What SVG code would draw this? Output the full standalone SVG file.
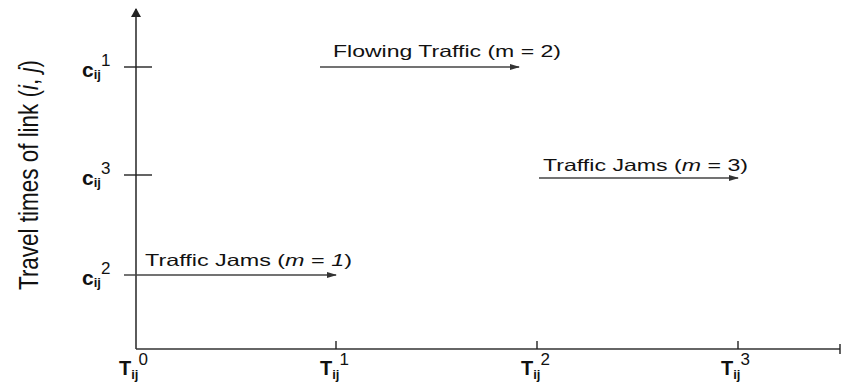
<svg xmlns="http://www.w3.org/2000/svg" width="841" height="385" viewBox="0 0 841 385">
<defs>
<marker id="ah" markerWidth="10" markerHeight="8" refX="9" refY="4" orient="auto" markerUnits="userSpaceOnUse">
<path d="M0,1 L10,4 L0,7 Z" fill="#333"/>
</marker>
<marker id="ahy" markerWidth="10" markerHeight="10" refX="5" refY="1" orient="0" markerUnits="userSpaceOnUse">
<path d="M0,9 L5,0 L10,9 Z" fill="#222"/>
</marker>
<style>
.ax{stroke:#333;stroke-width:1.6;fill:none}
.tk{stroke:#222;stroke-width:1.4;fill:none}
.ar{stroke:#444;stroke-width:1.4;fill:none}
.lb{font-family:"Liberation Sans",Arial,sans-serif;font-size:16.5px;fill:#111}
.tl{font-family:"Liberation Sans",Arial,sans-serif;font-weight:bold;fill:#111}
.sp{font-weight:normal}
.yl{font-family:"Liberation Sans Narrow","Liberation Sans",Arial,sans-serif;font-size:27px;fill:#111}
</style>
</defs>
<g id="axes">
<line class="ax" x1="136" y1="349" x2="136" y2="9" marker-end="url(#ahy)"/>
<line class="ax" x1="136" y1="349" x2="840" y2="349"/>
<line class="tk" x1="840" y1="344" x2="840" y2="354"/>
<line class="tk" x1="124" y1="67" x2="152" y2="67"/>
<line class="tk" x1="124" y1="175" x2="152" y2="175"/>
<line class="tk" x1="336" y1="341" x2="336" y2="349"/>
<line class="tk" x1="537" y1="341" x2="537" y2="349"/>
<line class="tk" x1="738" y1="341" x2="738" y2="349"/>
</g>
<g id="connectors">
<line class="ar" x1="320" y1="67" x2="519" y2="67" marker-end="url(#ah)"/>
<line class="ar" x1="539" y1="178" x2="738" y2="178" marker-end="url(#ah)"/>
<line class="ar" x1="124" y1="275" x2="336" y2="275" marker-end="url(#ah)"/>
</g>
<g id="flowing">
<text class="lb" x="333" y="57" textLength="228" lengthAdjust="spacingAndGlyphs">Flowing Traffic (m = 2)</text>
</g>
<g id="jams3">
<text class="lb" x="543" y="171" textLength="205" lengthAdjust="spacingAndGlyphs">Traffic Jams (<tspan font-style="italic">m</tspan> = 3)</text>
</g>
<g id="jams1">
<text class="lb" x="145" y="266" textLength="207" lengthAdjust="spacingAndGlyphs">Traffic Jams (<tspan font-style="italic">m</tspan> = <tspan font-style="italic">1</tspan>)</text>
</g>
<g id="ylabels">
<text class="tl" x="82" y="77" font-size="21">c<tspan font-size="13" dy="2">ij</tspan><tspan class="sp" font-size="17" dy="-13">1</tspan></text>
<text class="tl" x="82" y="185" font-size="21">c<tspan font-size="13" dy="2">ij</tspan><tspan class="sp" font-size="17" dy="-13">3</tspan></text>
<text class="tl" x="82" y="285" font-size="21">c<tspan font-size="13" dy="2">ij</tspan><tspan class="sp" font-size="17" dy="-13">2</tspan></text>
</g>
<g id="xlabels">
<text class="tl" x="119" y="375" font-size="20">T<tspan font-size="13" dy="4">ij</tspan><tspan class="sp" font-size="17" dy="-14">0</tspan></text>
<text class="tl" x="320" y="375" font-size="20">T<tspan font-size="13" dy="4">ij</tspan><tspan class="sp" font-size="17" dy="-14">1</tspan></text>
<text class="tl" x="521" y="375" font-size="20">T<tspan font-size="13" dy="4">ij</tspan><tspan class="sp" font-size="17" dy="-14">2</tspan></text>
<text class="tl" x="721" y="375" font-size="20">T<tspan font-size="13" dy="4">ij</tspan><tspan class="sp" font-size="17" dy="-14">3</tspan></text>
</g>
<g id="ytitle">
<text class="yl" transform="translate(38,290) rotate(-90)" textLength="230" lengthAdjust="spacingAndGlyphs">Travel times of link (<tspan font-style="italic">i</tspan>, <tspan font-style="italic">j</tspan>)</text>
</g>
</svg>
